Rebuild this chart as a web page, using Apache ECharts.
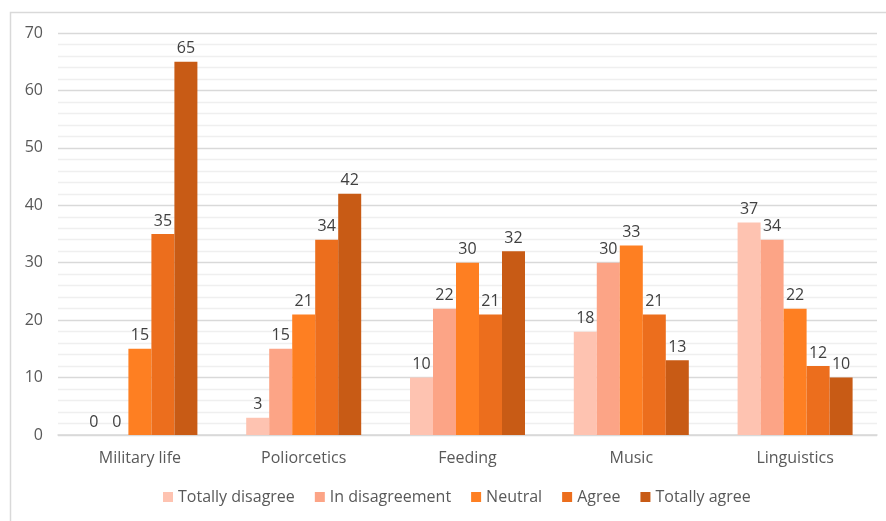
<!DOCTYPE html>
<html>
<head>
<meta charset="utf-8">
<script src="https://cdn.jsdelivr.net/npm/echarts@6/dist/echarts.min.js"></script>
<style>
  html, body { margin: 0; padding: 0; background: #fff; }
  #chart { width: 886px; height: 521px; }
</style>
</head>
<body>
<div id="chart"></div>
<script>
// Survey responses per topic
const categories = ['Military life', 'Poliorcetics', 'Feeding', 'Music', 'Linguistics'];
const totallyDisagree = [0, 3, 10, 18, 37];
const inDisagreement = [0, 15, 22, 30, 34];
const neutral = [15, 21, 30, 33, 22];
const agree = [35, 34, 21, 21, 12];
const totallyAgree = [65, 42, 32, 13, 10];
const yTicks = [0, 10, 20, 30, 40, 50, 60, 70];

const FONT = 'Open Sans';
const FS = 16;
const seriesDefs = [
  { name: 'Totally disagree', data: totallyDisagree, color: '#fec3b1' },
  { name: 'In disagreement', data: inDisagreement, color: '#fca486' },
  { name: 'Neutral', data: neutral, color: '#fe7f22' },
  { name: 'Agree', data: agree, color: '#ec6e1d' },
  { name: 'Totally agree', data: totallyAgree, color: '#c85b15' }
];

const chart = echarts.init(document.getElementById('chart'), null, { renderer: 'canvas' });
chart.setOption({
  animation: false,
  textStyle: { fontFamily: FONT },
  graphic: [{
    type: 'rect',
    shape: { x: 10.5, y: 12.5, width: 900, height: 600 },
    style: { fill: 'none', stroke: '#d9d9d9', lineWidth: 1.5 },
    silent: true
  }],
  grid: { left: 58, right: 9, top: 33, bottom: 86, containLabel: false },
  legend: {
    bottom: 11,
    left: 158,
    itemWidth: 10,
    itemHeight: 10,
    itemGap: 20,
    icon: 'rect',
    textStyle: { fontFamily: FONT, fontSize: FS, color: '#595959' },
    data: seriesDefs.map(s => s.name)
  },
  xAxis: {
    type: 'category',
    data: categories,
    axisLine: { lineStyle: { color: '#d9d9d9', width: 1.5 } },
    axisTick: { show: false },
    axisLabel: { fontFamily: FONT, fontSize: FS, color: '#595959', margin: 15 }
  },
  yAxis: {
    type: 'value',
    min: yTicks[0],
    max: yTicks[yTicks.length - 1],
    interval: 10,
    axisLine: { show: false },
    axisTick: { show: false },
    axisLabel: { fontFamily: FONT, fontSize: FS, color: '#595959', margin: 15 },
    splitLine: { lineStyle: { color: '#d9d9d9', width: 1.3 } },
    minorTick: { show: false, splitNumber: 5 },
    minorSplitLine: { show: true, lineStyle: { color: '#efefef', width: 1.3 } }
  },
  series: seriesDefs.map(s => ({
    type: 'bar',
    name: s.name,
    data: s.data,
    barWidth: 23,
    barGap: '0%',
    itemStyle: { color: s.color },
    label: {
      show: true,
      position: 'top',
      distance: 5,
      fontFamily: FONT,
      fontSize: FS,
      color: '#404040'
    }
  }))
});
</script>
</body>
</html>
